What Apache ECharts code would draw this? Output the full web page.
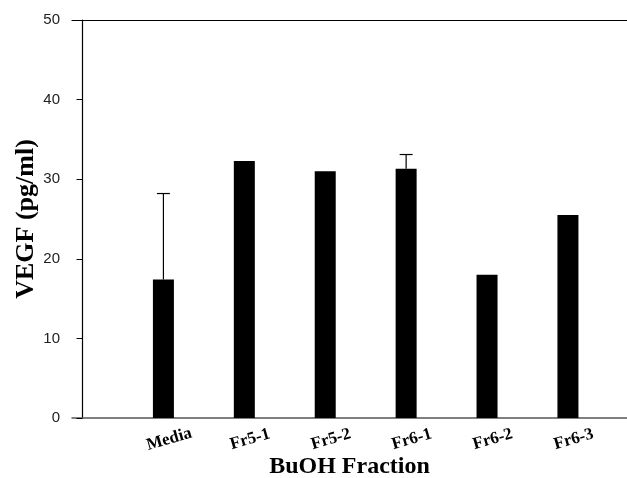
<!DOCTYPE html>
<html>
<head>
<meta charset="utf-8">
<script src="https://cdn.jsdelivr.net/npm/echarts@6/dist/echarts.min.js"></script>
<style>
  html, body { margin: 0; padding: 0; background: #fff; }
  #chart { width: 627px; height: 478px; }
</style>
</head>
<body>
<div id="chart"></div>
<script>
// data
const fractions = ['Media', 'Fr5-1', 'Fr5-2', 'Fr6-1', 'Fr6-2', 'Fr6-3'];
const positions = [1, 2, 3, 4, 5, 6];
const vegf = [17.4, 32.3, 31.0, 31.3, 18.0, 25.5];
const errUp = [10.8, 0, 0, 1.8, 0, 0];
const yTicks = [0, 10, 20, 30, 40, 50];

const chart = echarts.init(document.getElementById('chart'));

const serif = '"Liberation Serif", "DejaVu Serif", serif';
const sans = '"Liberation Sans", Arial, sans-serif';

const barData = positions.map((p, i) => [p, vegf[i]]);
const errData = positions.map((p, i) => [p, vegf[i], errUp[i]]);

const option = {
    animation: false,
    grid: {
        left: 72,
        right: 0,
        top: 20,
        bottom: 60,
        outerBoundsMode: 'none',
        containLabel: false
    },
    xAxis: [
        {
            type: 'value',
            min: -0.13,
            max: 6.73,
            name: 'BuOH Fraction',
            nameLocation: 'middle',
            nameGap: 37,
            nameMoveOverlap: false,
            nameTextStyle: {
                fontFamily: serif,
                fontWeight: 'bold',
                fontSize: 24,
                color: '#000'
            },
            axisLine: { lineStyle: { color: '#555', width: 1.5 } },
            axisTick: { show: false },
            splitLine: { show: false },
            axisLabel: {
                customValues: positions,
                formatter: v => fractions[positions.indexOf(Math.round(v))] || '',
                rotate: 16,
                align: 'center',
                verticalAlign: 'middle',
                padding: [0, 0, 0, 12],
                margin: 23,
                fontFamily: serif,
                fontWeight: 'bold',
                fontSize: 17,
                color: '#000'
            }
        },
        {
            type: 'value',
            position: 'top',
            min: -0.13,
            max: 6.73,
            axisLine: { show: true, lineStyle: { color: '#000', width: 1.2 } },
            axisTick: { show: false },
            axisLabel: { show: false },
            splitLine: { show: false }
        }
    ],
    yAxis: {
        type: 'value',
        min: yTicks[0],
        max: yTicks[yTicks.length - 1],
        interval: 10,
        name: 'VEGF (pg/ml)',
        nameLocation: 'middle',
        nameGap: 33,
        nameMoveOverlap: false,
        nameTextStyle: {
            fontFamily: serif,
            fontWeight: 'bold',
            fontSize: 26,
            color: '#000'
        },
        axisLine: { show: true, lineStyle: { color: '#000', width: 1.2 } },
        axisTick: { show: true, length: 6, lineStyle: { color: '#000' } },
        splitLine: { show: false },
        axisLabel: {
            margin: 12,
            fontFamily: sans,
            fontSize: 15,
            color: '#222'
        }
    },
    series: [
        {
            type: 'bar',
            data: barData,
            barWidth: 21,
            itemStyle: { color: '#000' }
        },
        {
            type: 'custom',
            data: errData,
            z: 3,
            renderItem: (params, api) => {
                const x = api.value(0);
                const y = api.value(1);
                const e = api.value(2);
                if (!e) return null;
                const top = api.coord([x, y + e]);
                const base = api.coord([x, y]);
                const half = 6.5;
                const style = { stroke: '#000', lineWidth: 1.2 };
                return {
                    type: 'group',
                    children: [
                        { type: 'line', shape: { x1: top[0], y1: top[1], x2: base[0], y2: base[1] }, style },
                        { type: 'line', shape: { x1: top[0] - half, y1: top[1], x2: top[0] + half, y2: top[1] }, style }
                    ]
                };
            }
        }
    ]
};

chart.setOption(option);

window.addEventListener('resize', _ => {
    chart.resize();
});
</script>
</body>
</html>
